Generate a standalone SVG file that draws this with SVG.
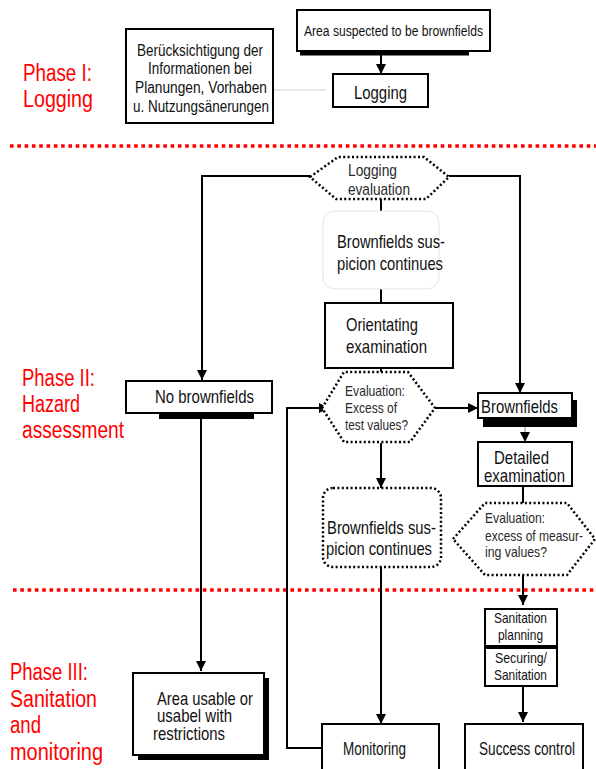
<svg xmlns="http://www.w3.org/2000/svg" width="596" height="769" viewBox="0 0 596 769">
  <defs>
    <marker id="arrow" markerUnits="userSpaceOnUse" markerWidth="11" markerHeight="11" refX="10" refY="5" orient="auto">
      <path d="M0,0 L10,5 L0,10 z" fill="#000"/>
    </marker>
    <style>
      text { font-family: "Liberation Sans Narrow", "Liberation Sans", Arial, sans-serif; fill: #111; }
      .phase { fill: #f00; font-size: 23px; }
      .box { fill: #fff; stroke: #000; stroke-width: 2; }
      .shadow { fill: #000; stroke: none; }
      .dotted { fill: #fff; stroke: #000; stroke-width: 2.5; stroke-dasharray: 2 2.4; }
      .faint { fill: #fff; stroke: #e4e4e4; stroke-width: 1; }
      .sep { stroke: #f00; stroke-width: 3.6; stroke-dasharray: 3.6 3.7; fill: none; }
      .conn { fill: none; stroke: #000; stroke-width: 2; }
      .t17 { font-size: 18.5px; }
      .t15 { font-size: 16px; }
      .t14 { font-size: 15px; }
      .t13 { font-size: 14.5px; fill: #2a2a2a; }
      .t16 { font-size: 17px; fill: #2a2a2a; }
    </style>
  </defs>
  <rect width="596" height="769" fill="#fff"/>

  <!-- phase separators -->
  <g id="separators">
    <line class="sep" x1="10" y1="146" x2="596" y2="146"/>
    <line class="sep" x1="13" y1="590" x2="596" y2="590"/>
  </g>

  <!-- phase titles -->
  <g id="phase-1">
    <text class="phase" x="23" y="81" textLength="69" lengthAdjust="spacingAndGlyphs">Phase I:</text>
    <text class="phase" x="23" y="107" textLength="70" lengthAdjust="spacingAndGlyphs">Logging</text>
  </g>
  <g id="phase-2">
    <text class="phase" x="22" y="386" textLength="73" lengthAdjust="spacingAndGlyphs">Phase II:</text>
    <text class="phase" x="22" y="412" textLength="58" lengthAdjust="spacingAndGlyphs">Hazard</text>
    <text class="phase" x="22" y="438" textLength="102" lengthAdjust="spacingAndGlyphs">assessment</text>
  </g>
  <g id="phase-3">
    <text class="phase" x="10" y="680" textLength="78" lengthAdjust="spacingAndGlyphs">Phase III:</text>
    <text class="phase" x="10" y="707" textLength="87" lengthAdjust="spacingAndGlyphs">Sanitation</text>
    <text class="phase" x="10" y="733" textLength="31" lengthAdjust="spacingAndGlyphs">and</text>
    <text class="phase" x="10" y="760" textLength="93" lengthAdjust="spacingAndGlyphs">monitoring</text>
  </g>

  <!-- connectors -->
  <g id="connectors">
    <line x1="273" y1="90" x2="326" y2="90" stroke="#cfcfcf" stroke-width="1"/>
    <path class="conn" d="M381,55 V74" marker-end="url(#arrow)"/>
    <path class="conn" d="M310,176 H202 V380" marker-end="url(#arrow)"/>
    <path class="conn" d="M449,176 H520 V393" marker-end="url(#arrow)"/>
    <path class="conn" d="M381,199 V211"/>
    <path class="conn" d="M381,289 V303"/>
    <path class="conn" d="M381,368 V372"/>
    <path class="conn" d="M381,443 V488" marker-end="url(#arrow)"/>
    <path class="conn" d="M381,567 V724" marker-end="url(#arrow)"/>
    <path class="conn" d="M322,748 H287 V408 H329" marker-end="url(#arrow)"/>
    <path class="conn" d="M435,408 H478" marker-end="url(#arrow)"/>
    <path d="M525,427 V442" fill="none" stroke="#888" stroke-width="1" marker-end="url(#arrow)"/>
    <path class="conn" d="M523,486 V503"/>
    <path class="conn" d="M523,575 V605" marker-end="url(#arrow)"/>
    <path class="conn" d="M523,686 V722" marker-end="url(#arrow)"/>
    <path class="conn" d="M201,419 V671" marker-end="url(#arrow)"/>
  </g>

  <!-- Phase I nodes -->
  <g id="consideration">
    <rect class="box" x="126" y="29" width="147" height="94"/>
    <text class="t15" x="137" y="56" textLength="126" lengthAdjust="spacingAndGlyphs">Berücksichtigung der</text>
    <text class="t15" x="148" y="74" textLength="104" lengthAdjust="spacingAndGlyphs">Informationen bei</text>
    <text class="t15" x="135" y="93" textLength="132" lengthAdjust="spacingAndGlyphs">Planungen, Vorhaben</text>
    <text class="t15" x="133" y="112" textLength="136" lengthAdjust="spacingAndGlyphs">u. Nutzungsänerungen</text>
  </g>
  <g id="area-suspected">
    <rect class="shadow" x="300" y="50" width="169" height="5.5"/>
    <rect class="box" x="297" y="10" width="193" height="41"/>
    <text x="304" y="36" font-size="14" textLength="179" lengthAdjust="spacingAndGlyphs">Area suspected to be brownfields</text>
  </g>
  <g id="logging">
    <rect class="box" x="333" y="74" width="95" height="33"/>
    <text class="t17" x="354" y="99" textLength="53" lengthAdjust="spacingAndGlyphs">Logging</text>
  </g>

  <!-- Phase II nodes -->
  <g id="logging-evaluation">
    <polygon class="dotted" points="310,177 338,157 424,157 449,177 426,199 336,199"/>
    <text class="t16" x="348" y="176" textLength="49" lengthAdjust="spacingAndGlyphs">Logging</text>
    <text class="t16" x="348" y="195" textLength="62" lengthAdjust="spacingAndGlyphs">evaluation</text>
  </g>
  <g id="suspicion-continues-1">
    <rect class="faint" x="323" y="211" width="116" height="78" rx="12"/>
    <text class="t17" x="337" y="248" textLength="108" lengthAdjust="spacingAndGlyphs">Brownfields sus-</text>
    <text class="t17" x="337" y="270" textLength="106" lengthAdjust="spacingAndGlyphs">picion continues</text>
  </g>
  <g id="orientating-examination">
    <rect class="box" x="325" y="303" width="128" height="65"/>
    <text class="t17" x="346" y="331" textLength="72" lengthAdjust="spacingAndGlyphs">Orientating</text>
    <text class="t17" x="346" y="353" textLength="81" lengthAdjust="spacingAndGlyphs">examination</text>
  </g>
  <g id="no-brownfields">
    <rect class="shadow" x="159" y="412" width="95" height="7"/>
    <rect class="box" x="126" y="381" width="146" height="32"/>
    <text class="t17" x="155" y="403" textLength="99" lengthAdjust="spacingAndGlyphs">No brownfields</text>
  </g>
  <g id="evaluation-test-values">
    <polygon class="dotted" points="322,408 344,372 408,372 435,408 410,442 344,442"/>
    <text class="t13" x="345" y="396" textLength="60" lengthAdjust="spacingAndGlyphs">Evaluation:</text>
    <text class="t13" x="345" y="413" textLength="52" lengthAdjust="spacingAndGlyphs">Excess of</text>
    <text class="t13" x="345" y="430" textLength="63" lengthAdjust="spacingAndGlyphs">test values?</text>
  </g>
  <g id="brownfields">
    <rect class="shadow" x="483" y="400" width="94" height="27"/>
    <rect class="box" x="478" y="393" width="94" height="25"/>
    <text class="t17" x="481" y="413" textLength="77" lengthAdjust="spacingAndGlyphs">Brownfields</text>
  </g>
  <g id="detailed-examination">
    <rect class="box" x="478" y="442" width="94" height="44"/>
    <text class="t17" x="494" y="464" textLength="55" lengthAdjust="spacingAndGlyphs">Detailed</text>
    <text class="t17" x="484" y="482" textLength="81" lengthAdjust="spacingAndGlyphs">examination</text>
  </g>
  <g id="suspicion-continues-2">
    <rect class="dotted" x="323" y="488" width="118" height="79" rx="10"/>
    <text class="t17" x="327" y="534" textLength="109" lengthAdjust="spacingAndGlyphs">Brownfields sus-</text>
    <text class="t17" x="326" y="555" textLength="106" lengthAdjust="spacingAndGlyphs">picion continues</text>
  </g>
  <g id="evaluation-measuring-values">
    <polygon class="dotted" points="453,539 485,503 567,503 595,539 567,575 485,575"/>
    <text class="t13" x="485" y="523" textLength="60" lengthAdjust="spacingAndGlyphs">Evaluation:</text>
    <text class="t13" x="485" y="541" textLength="98" lengthAdjust="spacingAndGlyphs">excess of measur-</text>
    <text class="t13" x="485" y="557" textLength="62" lengthAdjust="spacingAndGlyphs">ing values?</text>
  </g>

  <!-- Phase III nodes -->
  <g id="sanitation-planning">
    <rect class="box" x="485" y="609" width="72" height="37"/>
    <text class="t14" x="494" y="623" textLength="53" lengthAdjust="spacingAndGlyphs">Sanitation</text>
    <text class="t14" x="498" y="640" textLength="45" lengthAdjust="spacingAndGlyphs">planning</text>
  </g>
  <g id="securing-sanitation">
    <rect class="box" x="485" y="648" width="72" height="38"/>
    <text class="t14" x="495" y="663" textLength="52" lengthAdjust="spacingAndGlyphs">Securing/</text>
    <text class="t14" x="494" y="680" textLength="53" lengthAdjust="spacingAndGlyphs">Sanitation</text>
  </g>
  <g id="area-usable">
    <rect class="shadow" x="138" y="678" width="131" height="82"/>
    <rect class="box" x="133" y="673" width="131" height="82"/>
    <text class="t17" x="157" y="705" textLength="96" lengthAdjust="spacingAndGlyphs">Area usable or</text>
    <text class="t17" x="157" y="722" textLength="75" lengthAdjust="spacingAndGlyphs">usabel with</text>
    <text class="t17" x="153" y="740" textLength="72" lengthAdjust="spacingAndGlyphs">restrictions</text>
  </g>
  <g id="monitoring">
    <rect class="box" x="322" y="724" width="117" height="60"/>
    <text class="t17" x="343" y="755" textLength="63" lengthAdjust="spacingAndGlyphs">Monitoring</text>
  </g>
  <g id="success-control">
    <rect class="box" x="465" y="724" width="118" height="60"/>
    <text class="t17" x="479" y="755" textLength="96" lengthAdjust="spacingAndGlyphs">Success control</text>
  </g>
</svg>
